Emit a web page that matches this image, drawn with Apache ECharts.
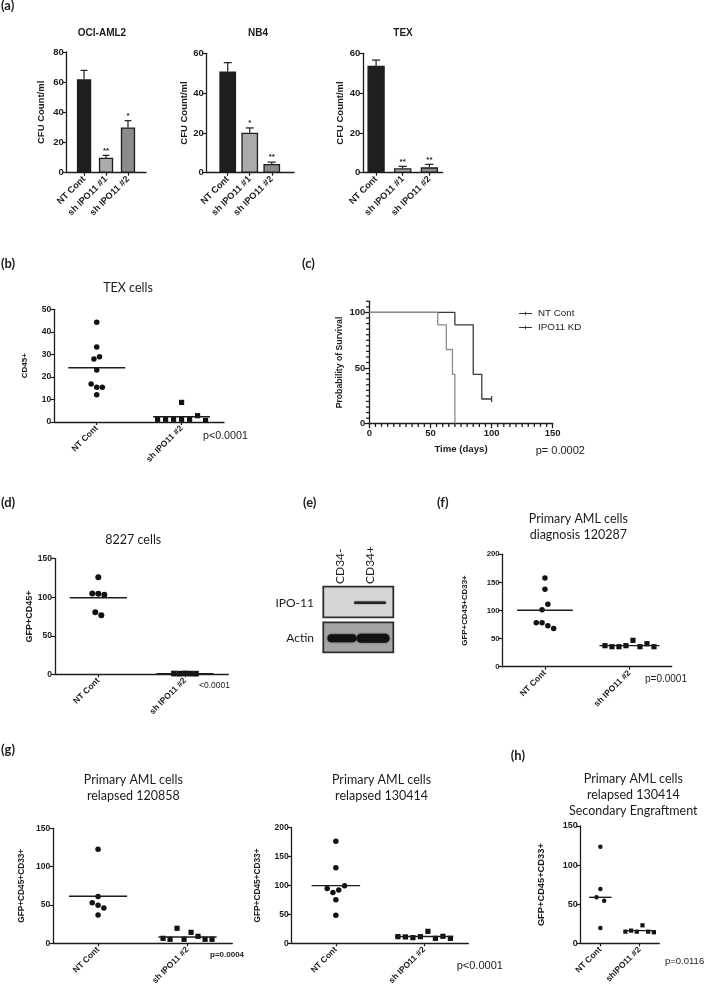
<!DOCTYPE html>
<html><head><meta charset="utf-8">
<script src="https://cdn.jsdelivr.net/npm/echarts@6/dist/echarts.min.js"></script>
<style>html,body{margin:0;padding:0;background:#fff}#c{width:705px;height:989px}</style>
</head><body><div id="c"></div>
<script>
// ---------------- DATA ----------------
// (a) colony forming units
const cfuCategories = ['NT Cont', 'sh IPO11 #1', 'sh IPO11 #2'];
const ociMean = [61.9, 9.9, 30.0];
const ociSem = [5.9, 1.6, 4.5];
const ociStars = ['', '**', '*'];
const nb4Mean = [50.8, 20.1, 4.4];
const nb4Sem = [4.5, 2.4, 0.9];
const nb4Stars = ['', '*', '**'];
const texMean = [53.8, 2.2, 2.7];
const texSem = [2.8, 1.0, 1.5];
const texStars = ['', '**', '**'];

// dot plots
const dotCategories = ['NT Cont', 'sh IPO11 #2'];
const dotCategoriesH = ['NT Cont', 'shIPO11 #2'];
const texCellsNT = [44.2, 33.3, 27.9, 29.0, 23.1, 16.9, 15.4, 15.4, 12.1];
const texCellsSh = [8.7, 1.2, 1.2, 1.2, 1.2, 1.2, 2.8, 0.7];
const texCellsLine = [24.1, 2.3];
const c8227NT = [125.8, 105.0, 104.6, 103.3, 80.4, 76.5];
const c8227Sh = [1.0, 0.8, 1.1, 0.9, 0.8];
const c8227Line = [99.3, 0.9];
const dx120287NT = [158, 138, 101.5, 111, 78, 78, 73, 68];
const dx120287Sh = [37.4, 35.6, 35.6, 37.4, 46.9, 35.6, 40.9, 35.6];
const dx120287Line = [100.5, 37.5];
const rel120858NT = [122.6, 60.9, 53.0, 49.6, 46.1, 37.0];
const rel120858Sh = [6.5, 5.2, 19.6, 5.2, 14.3, 9.1, 5.2, 5.2];
const rel120858Line = [61.3, 8.3];
const rel130414NT = [176.4, 130.8, 95.0, 88.0, 92.0, 99.7, 75.5, 48.4];
const rel130414Sh = [11.5, 11.0, 9.8, 11.5, 20.7, 8.6, 12.1, 8.6];
const rel130414Line = [99.7, 11.7];
const sec130414NT = [123.6, 69.5, 58.8, 54.5, 19.6];
const sec130414Sh = [14.9, 16.2, 14.9, 23.0, 14.9, 14.1];
const sec130414Line = [58.8, 16.2];

// (c) Kaplan-Meier
const kmNTDays = [0, 56, 63, 68, 70];
const kmNTSurv = [100, 88.9, 66.7, 44.4, 0];
const kmKDDays = [0, 70, 85, 92, 100];
const kmKDSurv = [100, 88.9, 44.4, 22.2, 22.2];
const kmTicksX = [0, 50, 100, 150];
const kmTicksY = [0, 50, 100];
const kmMinorStep = 5;

// ---------------- STYLE / HELPERS ----------------
const AR = '"Liberation Sans", Arial, sans-serif';
const CAL = 'Lato, "Open Sans", sans-serif';
const INK = '#1c1c1c';
const barColors = ['#1f1f1f', '#ababab', '#8b8b8b'];

const option = {animation: false, grid: [], xAxis: [], yAxis: [], series: [], graphic: []};

function axisBase() {
  return {
    axisLine: {show: true, onZero: false, lineStyle: {color: INK, width: 1.3}},
    axisTick: {show: true, inside: false, length: 4, lineStyle: {color: INK, width: 1.2}},
    splitLine: {show: false}
  };
}
function addGrid(rect, xa, ya) {
  const i = option.grid.length;
  option.grid.push({left: rect[0], top: rect[1], width: rect[2], height: rect[3], containLabel: false, outerBoundsMode: 'none'});
  option.xAxis.push(Object.assign(axisBase(), {gridIndex: i}, xa));
  option.yAxis.push(Object.assign(axisBase(), {gridIndex: i}, ya));
  return i;
}
function txt(x, y, text, font, align, extra) {
  option.graphic.push(Object.assign({
    type: 'text', x: x, y: y, silent: true,
    style: {text: text, font: font, fill: INK, align: align || 'left', verticalAlign: 'middle',
            textAlign: align || 'left', textVerticalAlign: 'middle'}
  }, extra || {}));
}
function txtLines(x, yc, text, font, lh) {
  option.graphic.push({
    type: 'text', x: x, y: yc, silent: true,
    style: {text: text, font: font, fill: INK, align: 'center', verticalAlign: 'middle',
            textAlign: 'center', textVerticalAlign: 'middle', lineHeight: lh}
  });
}

// ---------------- (a) BAR CHARTS ----------------
function barPanel(cfg) {
  const i = addGrid(cfg.rect,
    {type: 'value', min: cfg.xMin, max: cfg.xMax,
     axisTick: {show: true, length: 3, customValues: [0, 1, 2], lineStyle: {color: INK, width: 1.2}},
     axisLabel: {customValues: [0, 1, 2], formatter: v => cfuCategories[Math.round(v)], rotate: 45, margin: 5,
                 fontFamily: AR, fontWeight: 'bold', fontSize: 9.2, color: INK}},
    {type: 'value', min: 0, max: cfg.yMax, interval: 20,
     name: 'CFU Count/ml', nameLocation: 'middle', nameRotate: 90, nameGap: cfg.nameGap,
     nameTextStyle: {fontFamily: AR, fontWeight: 'bold', fontSize: 9.5, color: INK},
     axisLabel: {fontFamily: AR, fontWeight: 'bold', fontSize: 9.5, color: INK, margin: 3}});
  option.series.push({
    type: 'bar', xAxisIndex: i, yAxisIndex: i, barWidth: cfg.barW,
    itemStyle: {borderColor: INK, borderWidth: 1.3},
    data: cfg.mean.map((m, k) => ({value: [k, m], itemStyle: {color: barColors[k]}}))
  });
  const stars = cfg.stars, cap = cfg.barW * 0.24;
  option.series.push({
    type: 'custom', xAxisIndex: i, yAxisIndex: i, z: 5,
    data: cfg.mean.map((m, k) => [k, m, cfg.sem[k]]),
    renderItem: function (params, api) {
      const k = api.value(0), m = api.value(1), e = api.value(2);
      const b = api.coord([k, m]), t = api.coord([k, m + e]);
      return {type: 'group', children: [
        {type: 'line', shape: {x1: b[0], y1: b[1], x2: t[0], y2: t[1]}, style: {stroke: INK, lineWidth: 1.2}},
        {type: 'line', shape: {x1: t[0] - cap, y1: t[1], x2: t[0] + cap, y2: t[1]}, style: {stroke: INK, lineWidth: 1.2}},
        {type: 'text', x: t[0], y: t[1] - 1, style: {text: stars[k], font: 'bold 8px ' + AR, fill: INK,
          align: 'center', verticalAlign: 'bottom', textAlign: 'center', textVerticalAlign: 'bottom'}}
      ]};
    }
  });
  txt(cfg.titleX, 33, cfg.title, 'bold 10px ' + AR, 'center');
}
barPanel({rect: [66.7, 52, 79.3, 120.7], xMin: -0.79, xMax: 2.82, barW: 14.3, yMax: 80, nameGap: 20,
  mean: ociMean, sem: ociSem, stars: ociStars, title: 'OCI-AML2', titleX: 102});
barPanel({rect: [206.7, 53.3, 87.3, 119.4], xMin: -0.955, xMax: 3.01, barW: 16.7, yMax: 60, nameGap: 16,
  mean: nb4Mean, sem: nb4Sem, stars: nb4Stars, title: 'NB4', titleX: 258});
barPanel({rect: [363.3, 53.3, 79.4, 119.4], xMin: -0.48, xMax: 2.5, barW: 17.3, yMax: 60, nameGap: 16,
  mean: texMean, sem: texSem, stars: texStars, title: 'TEX', titleX: 403});

// ---------------- DOT PLOTS ----------------
function swarm(values, pxPerUnit, thresh, spacing) {
  const idx = values.map((v, i) => i).sort((a, b) => values[b] - values[a]);
  const offs = new Array(values.length).fill(0);
  let cluster = [idx[0]];
  const flush = () => {
    cluster.sort((a, b) => a - b);
    const n = cluster.length;
    cluster.forEach((ii, k) => { offs[ii] = (k - (n - 1) / 2) * spacing; });
  };
  for (let k = 1; k < idx.length; k++) {
    const prev = idx[k - 1], cur = idx[k];
    if ((values[prev] - values[cur]) * pxPerUnit < thresh) cluster.push(cur);
    else { flush(); cluster = [cur]; }
  }
  flush();
  return offs;
}
function dotPanel(cfg) {
  const i = addGrid(cfg.rect,
    {type: 'category', data: cfg.cats, boundaryGap: true,
     axisTick: {show: true, alignWithLabel: true, length: 3, lineStyle: {color: INK, width: 1.2}},
     axisLabel: {interval: 0, rotate: 45, margin: 5, fontFamily: AR, fontWeight: 'bold', fontSize: cfg.catFont, color: INK}},
    {type: 'value', min: 0, max: cfg.yMax, interval: cfg.yInt,
     name: cfg.yName, nameLocation: 'middle', nameRotate: 90, nameGap: cfg.nameGap,
     nameTextStyle: {fontFamily: AR, fontWeight: 'bold', fontSize: cfg.nameFont, color: INK},
     axisLabel: {fontFamily: AR, fontWeight: 'bold', fontSize: cfg.tickFont, color: INK, margin: 3}});
  const ppu = cfg.rect[3] / cfg.yMax;
  const band = cfg.rect[2] / cfg.cats.length;
  cfg.groups.forEach((vals, g) => {
    const offs = swarm(vals, ppu, 5.7, cfg.spacing[g]);
    option.series.push({
      type: 'scatter', xAxisIndex: i, yAxisIndex: i, z: 3,
      symbol: g === 0 ? 'circle' : 'rect', symbolSize: g === 0 ? cfg.size : cfg.size - 0.3,
      itemStyle: {color: '#111', opacity: 1},
      data: vals.map((v, k) => ({value: [g, v], symbolOffset: [offs[k], 0]}))
    });
  });
  option.series.push({
    type: 'scatter', xAxisIndex: i, yAxisIndex: i, z: 4,
    symbol: 'rect', itemStyle: {color: INK, opacity: 1},
    data: cfg.lines.map((v, g) => ({value: [g, v], symbolSize: [band * cfg.lineFrac[g], 1.4]}))
  });
  txtLines(cfg.titleX, cfg.titleY, cfg.title, '12.5px ' + CAL, 15.8);
  txt(cfg.p[0], cfg.p[1], cfg.p[2], cfg.p[3] + ' ' + AR, 'left');
}

// (b)
dotPanel({rect: [54.3, 309.3, 169.7, 112.7], cats: dotCategories, yMax: 50, yInt: 10, yName: 'CD45+',
  nameGap: 26, nameFont: 8, tickFont: 8.5, catFont: 8.5, size: 5.5, spacing: [5.6, 8],
  groups: [texCellsNT, texCellsSh], lines: texCellsLine, lineFrac: [0.67, 0.67],
  title: 'TEX cells', titleX: 128, titleY: 288, p: [203, 436, 'p<0.0001', '10.7px']});
// (d)
dotPanel({rect: [55, 558.7, 173.3, 115.6], cats: dotCategories, yMax: 150, yInt: 50, yName: 'GFP+CD45+',
  nameGap: 20, nameFont: 9, tickFont: 8.5, catFont: 8.5, size: 6, spacing: [6, 5.5],
  groups: [c8227NT, c8227Sh], lines: c8227Line, lineFrac: [0.66, 0.66],
  title: '8227 cells', titleX: 133.3, titleY: 540, p: [199, 686, '<0.0001', '8.5px']});
// (f)
dotPanel({rect: [502.7, 554.3, 169, 112.4], cats: dotCategories, yMax: 200, yInt: 50, yName: 'GFP+CD45+CD33+',
  nameGap: 34, nameFont: 7.9, tickFont: 7.8, catFont: 8.5, size: 5.5, spacing: [5.8, 7],
  groups: [dx120287NT, dx120287Sh], lines: dx120287Line, lineFrac: [0.66, 0.71],
  title: 'Primary AML cells\ndiagnosis 120287', titleX: 578.3, titleY: 527, p: [645, 679, 'p=0.0001', '10px']});
// (g) left
dotPanel({rect: [53.3, 828.3, 179, 115], cats: dotCategories, yMax: 150, yInt: 50, yName: 'GFP+CD45+CD33+',
  nameGap: 28, nameFont: 8.3, tickFont: 8.5, catFont: 8.5, size: 5.5, spacing: [5.8, 7],
  groups: [rel120858NT, rel120858Sh], lines: rel120858Line, lineFrac: [0.65, 0.65],
  title: 'Primary AML cells\nrelapsed 120858', titleX: 133.3, titleY: 788, p: [210, 955, 'p=0.0004', 'bold 8px']});
// (g) right
dotPanel({rect: [291.7, 827.7, 176.6, 115.6], cats: dotCategories, yMax: 200, yInt: 50, yName: 'GFP+CD45+CD33+',
  nameGap: 30, nameFont: 8.3, tickFont: 8.5, catFont: 8.5, size: 5.5, spacing: [5.8, 7.5],
  groups: [rel130414NT, rel130414Sh], lines: rel130414Line, lineFrac: [0.55, 0.66],
  title: 'Primary AML cells\nrelapsed 130414', titleX: 381.5, titleY: 788, p: [456.7, 966, 'p<0.0001', '11px']});
// (h)
dotPanel({rect: [580.7, 826, 78.6, 117.3], cats: dotCategoriesH, yMax: 150, yInt: 50, yName: 'GFP+CD45+CD33+',
  nameGap: 35, nameFont: 9.3, tickFont: 9, catFont: 8.5, size: 4.5, spacing: [7.7, 5.7],
  groups: [sec130414NT, sec130414Sh], lines: sec130414Line, lineFrac: [0.57, 0.8],
  title: 'Primary AML cells\nrelapsed 130414\nSecondary Engraftment', titleX: 633.3, titleY: 795, p: [665, 961, 'p=0.0116', '9.5px']});

// ---------------- (c) KAPLAN-MEIER ----------------
const kmRect = [369.3, 301.3, 183.4, 122.4];
const KM_XMAX = 150, KM_YMAX = 110;
const ci = addGrid(kmRect,
  {type: 'value', min: 0, max: KM_XMAX, interval: 50,
   axisTick: {show: true, length: 4.5, customValues: kmTicksX, lineStyle: {color: INK, width: 1.3}},
   axisLabel: {customValues: kmTicksX, fontFamily: AR, fontWeight: 'bold', fontSize: 9.5, color: INK, margin: 5},
   name: 'Time (days)', nameLocation: 'middle', nameGap: 21,
   nameTextStyle: {fontFamily: AR, fontWeight: 'bold', fontSize: 9.6, color: INK}},
  {type: 'value', min: 0, max: KM_YMAX, interval: 50,
   axisTick: {show: true, length: 4.5, customValues: kmTicksY, lineStyle: {color: INK, width: 1.3}},
   axisLabel: {customValues: kmTicksY, fontFamily: AR, fontWeight: 'bold', fontSize: 9.5, color: INK, margin: 4},
   name: 'Probability of Survival', nameLocation: 'middle', nameRotate: 90, nameGap: 25,
   nameTextStyle: {fontFamily: AR, fontWeight: 'bold', fontSize: 8.7, color: INK}});
// small ticks every 5 units, placed through the axes' scales
const minorX = [], minorY = [];
for (let v = kmMinorStep; v < KM_XMAX; v += kmMinorStep) if (v % 50) minorX.push([v, 0]);
for (let v = kmMinorStep; v <= KM_YMAX; v += kmMinorStep) if (v % 50) minorY.push([0, v]);
option.series.push({
  type: 'custom', xAxisIndex: ci, yAxisIndex: ci, silent: true, clip: false, z: 6,
  data: minorX.map(d => [d[0], d[1], 0]).concat(minorY.map(d => [d[0], d[1], 1])),
  renderItem: function (params, api) {
    const p = api.coord([api.value(0), api.value(1)]);
    const vert = api.value(2) === 0;
    return {type: 'line', shape: vert ? {x1: p[0], y1: p[1], x2: p[0], y2: p[1] + 3.2}
                                      : {x1: p[0] - 3.2, y1: p[1], x2: p[0], y2: p[1]},
            style: {stroke: INK, lineWidth: 1.3}};
  }
});
option.series.push({
  type: 'line', name: 'IPO11 KD', xAxisIndex: ci, yAxisIndex: ci, step: 'end', z: 2,
  symbol: 'none', showSymbol: true,
  lineStyle: {color: '#3a3a3a', width: 1.3}, itemStyle: {color: '#3a3a3a'},
  data: kmKDDays.map((d, k) => k === kmKDDays.length - 1
    ? {value: [d, kmKDSurv[k]], symbol: 'rect', symbolSize: [1.3, 6]}
    : [d, kmKDSurv[k]])
});
option.series.push({
  type: 'line', name: 'NT Cont', xAxisIndex: ci, yAxisIndex: ci, step: 'end', z: 3,
  symbol: 'none', lineStyle: {color: '#8c8c8c', width: 1.3}, itemStyle: {color: '#8c8c8c'},
  data: kmNTDays.map((d, k) => [d, kmNTSurv[k]])
});
option.legend = {
  data: ['NT Cont', 'IPO11 KD'], orient: 'vertical', left: 514, top: 303.5, itemGap: 4,
  itemWidth: 13, itemHeight: 7,
  icon: 'path://M0,3 L14,3 L14,4 L0,4 Z M6.5,1.5 L7.5,1.5 L7.5,5.5 L6.5,5.5 Z',
  itemStyle: {color: '#333'},
  textStyle: {fontFamily: AR, fontSize: 9.8, color: INK, padding: [0, 0, 0, 1]}
};
txt(535.7, 451, 'p= 0.0002', '11px ' + AR, 'left');

// ---------------- (e) WESTERN BLOT ----------------
option.graphic.push(
  {type: 'rect', shape: {x: 323.3, y: 586.7, width: 70, height: 30.6}, style: {fill: '#d6d6d6', stroke: '#2e2e2e', lineWidth: 1.8}, silent: true},
  {type: 'rect', shape: {x: 354, y: 601.5, width: 32, height: 2.6, r: 1.3}, style: {fill: '#222', shadowBlur: 1.5, shadowColor: '#444'}, silent: true},
  {type: 'rect', shape: {x: 323.3, y: 622.3, width: 70, height: 30}, style: {fill: '#a4a4a4', stroke: '#2e2e2e', lineWidth: 1.8}, silent: true},
  {type: 'rect', shape: {x: 327.5, y: 634.3, width: 29, height: 8, r: 4}, style: {fill: '#111', shadowBlur: 2, shadowColor: '#333'}, silent: true},
  {type: 'rect', shape: {x: 356.5, y: 633.8, width: 33, height: 9, r: 4.5}, style: {fill: '#111', shadowBlur: 2, shadowColor: '#333'}, silent: true}
);
txt(314, 603.3, 'IPO-11', '12px ' + CAL, 'right');
txt(314, 638.3, 'Actin', '12px ' + CAL, 'right');
txt(340, 584, 'CD34-', '12px ' + CAL, 'left', {rotation: Math.PI / 2});
txt(370, 584, 'CD34+', '12px ' + CAL, 'left', {rotation: Math.PI / 2});

// ---------------- PANEL LETTERS ----------------
[['(a)', 1, 6], ['(b)', 1, 264], ['(c)', 302, 264], ['(d)', 1, 503], ['(e)', 303, 503],
 ['(f)', 437, 503], ['(g)', 1, 750], ['(h)', 510.7, 756]].forEach(p => txt(p[1], p[2], p[0], 'bold 13px ' + CAL, 'left'));

const chart = echarts.init(document.getElementById('c'), null, {renderer: 'canvas'});
chart.setOption(option);
</script></body></html>
